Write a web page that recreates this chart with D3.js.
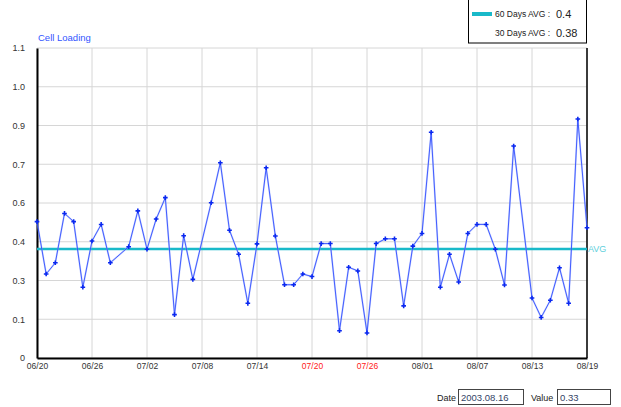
<!DOCTYPE html>
<html>
<head>
<meta charset="utf-8">
<script src="https://cdn.jsdelivr.net/npm/d3@7"></script>
<style>
  body { margin: 0; background: #fff; }
  text { font-family: "Liberation Sans", Arial, sans-serif; }
</style>
</head>
<body>
<div id="chart"></div>
<script>
// daily cell loading, 2003-06-20 .. 2003-08-19 (null = no sample that day)
const startDate = "2003-06-20";
const loading = [
  0.484, 0.298, 0.338, 0.513, 0.484, 0.251, 0.415, 0.474, 0.338, null,
  0.395, 0.522, 0.386, 0.493, 0.569, 0.154, 0.434, 0.279, null, 0.551,
  0.693, 0.453, 0.368, 0.194, 0.405, 0.675, 0.433, 0.260, 0.260, 0.298,
  0.289, 0.406, 0.406, 0.097, 0.322, 0.309, 0.089, 0.406, 0.423, 0.423,
  0.185, 0.397, 0.442, 0.801, 0.251, 0.368, 0.270, 0.442, 0.474, 0.474,
  0.386, 0.259, 0.752, null, 0.213, 0.144, 0.205, 0.320, 0.194, 0.848,
  0.462
];
const xTickLabels = ["06/20", "06/26", "07/02", "07/08", "07/14", "07/20", "07/26", "08/01", "08/07", "08/13", "08/19"];
const xTickRed = ["07/20", "07/26"];
const yTickValues = [0, 0.1375, 0.275, 0.4125, 0.55, 0.6875, 0.825, 0.9625, 1.1];
const yTickLabels = ["0", "0.1", "0.3", "0.4", "0.6", "0.7", "0.9", "1.0", "1.1"];
const avgLine = 0.387;
const legendRows = [
  {label: "60 Days AVG :", value: "0.4", swatch: true},
  {label: "30 Days AVG :", value: "0.38", swatch: false}
];
const selDate = "2003.08.16";
const selValue = "0.33";

const width = 621, height = 407;
const margin = {left: 37, right: 34, top: 48, bottom: 49};

const svg = d3.select("#chart").append("svg")
    .attr("width", width).attr("height", height);

const parse = d3.timeParse("%Y-%m-%d");
const t0 = parse(startDate);
const points = loading.map(function (v, i) {
    return {date: d3.timeDay.offset(t0, i), value: v};
}).filter(function (d) { return d.value !== null; });

const tickDates = xTickLabels.map(function (l, i) { return d3.timeDay.offset(t0, i * 6); });

const x = d3.scaleTime()
    .domain([t0, d3.timeDay.offset(t0, loading.length - 1)])
    .range([margin.left, width - margin.right]);
const y = d3.scaleLinear()
    .domain([0, 1.1])
    .range([height - margin.bottom, margin.top]);

// grid
svg.append("g").attr("class", "ygrid")
    .selectAll("line").data(yTickValues).enter().append("line")
    .attr("x1", x.range()[0]).attr("x2", x.range()[1])
    .attr("y1", function (d) { return y(d); }).attr("y2", function (d) { return y(d); })
    .attr("stroke", "#d6d6d6").attr("stroke-width", 1);
svg.append("g").attr("class", "xgrid")
    .selectAll("line").data(tickDates).enter().append("line")
    .attr("x1", function (d) { return x(d); }).attr("x2", function (d) { return x(d); })
    .attr("y1", y.range()[1]).attr("y2", y.range()[0])
    .attr("stroke", "#d6d6d6").attr("stroke-width", 1);

// axes
const yAxis = svg.append("g")
    .attr("transform", "translate(" + margin.left + ",0)")
    .call(d3.axisLeft(y).tickValues(yTickValues).tickSize(0).tickPadding(12)
        .tickFormat(function (d, i) { return yTickLabels[i]; }));
yAxis.select(".domain").attr("stroke", "#000").attr("stroke-width", 2);
yAxis.selectAll("text").attr("font-size", 9).attr("fill", "#333");

const xAxis = svg.append("g")
    .attr("transform", "translate(0," + y(0) + ")")
    .call(d3.axisBottom(x).tickValues(tickDates).tickSize(0).tickPadding(5)
        .tickFormat(function (d, i) { return xTickLabels[i]; }));
xAxis.select(".domain").attr("stroke", "#000").attr("stroke-width", 2);
xAxis.selectAll("text").attr("font-size", 8.5)
    .attr("fill", function (d, i) { return xTickRed.indexOf(xTickLabels[i]) >= 0 ? "#ff2020" : "#333"; });

svg.append("line")
    .attr("x1", x.range()[1]).attr("x2", x.range()[1])
    .attr("y1", y.range()[1]).attr("y2", y.range()[0])
    .attr("stroke", "#000").attr("stroke-width", 1.5);

// title
svg.append("text").attr("x", 38).attr("y", 41)
    .attr("font-size", 9.5).attr("fill", "#3355ff").text("Cell Loading");

// average line
svg.append("line")
    .attr("x1", x.range()[0]).attr("x2", x.range()[1])
    .attr("y1", y(avgLine)).attr("y2", y(avgLine))
    .attr("stroke", "#19b9c9").attr("stroke-width", 2.5);
svg.append("text").attr("x", x.range()[1] + 1).attr("y", y(avgLine) + 3)
    .attr("font-size", 9).attr("fill", "#5fd0dc").text("AVG");

// series
const line = d3.line()
    .x(function (d) { return x(d.date); })
    .y(function (d) { return y(d.value); });
svg.append("path").datum(points)
    .attr("d", line).attr("fill", "none")
    .attr("stroke", "#9db0ff").attr("stroke-width", 1.8).attr("opacity", 0.55);
svg.append("path").datum(points)
    .attr("d", line).attr("fill", "none")
    .attr("stroke", "#1f3dff").attr("stroke-width", 0.8);
svg.append("g").selectAll("path").data(points).enter().append("path")
    .attr("transform", function (d) { return "translate(" + x(d.date) + "," + y(d.value) + ")"; })
    .attr("d", d3.symbol().type(d3.symbolCross).size(12))
    .attr("fill", "#0a28f0");

// legend
const legend = svg.append("g").attr("class", "legend");
legend.append("rect").attr("x", 468.5).attr("y", -1).attr("width", 118).attr("height", 44)
    .attr("fill", "#fff").attr("stroke", "#000").attr("stroke-width", 1);
legendRows.forEach(function (r, i) {
    const ly = 14 + i * 19;
    if (r.swatch) {
        legend.append("line").attr("x1", 472).attr("x2", 492).attr("y1", ly).attr("y2", ly)
            .attr("stroke", "#19b9c9").attr("stroke-width", 4);
    }
    legend.append("text").attr("x", 495).attr("y", ly + 3)
        .attr("font-size", 8.5).attr("fill", "#222").text(r.label);
    legend.append("text").attr("x", 556).attr("y", ly + 4)
        .attr("font-size", 11).attr("fill", "#222").text(r.value);
});

// selection readout
const info = svg.append("g").attr("class", "info");
info.append("text").attr("x", 437).attr("y", 401).attr("font-size", 9).attr("fill", "#222").text("Date");
info.append("rect").attr("x", 458.5).attr("y", 389.5).attr("width", 65).attr("height", 15)
    .attr("fill", "#fff").attr("stroke", "#444");
info.append("text").attr("x", 461).attr("y", 401).attr("font-size", 9.5).attr("fill", "#334466").text(selDate);
info.append("text").attr("x", 531).attr("y", 401).attr("font-size", 9).attr("fill", "#222").text("Value");
info.append("rect").attr("x", 557.5).attr("y", 389.5).attr("width", 53).attr("height", 15)
    .attr("fill", "#fff").attr("stroke", "#444");
info.append("text").attr("x", 560).attr("y", 401).attr("font-size", 9.5).attr("fill", "#334466").text(selValue);
</script>
</body>
</html>
